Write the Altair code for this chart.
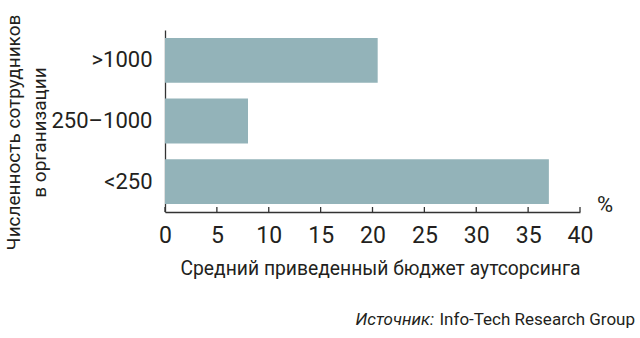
import altair as alt
import pandas as pd

categories = [">1000", "250–1000", "<250"]
values = [20.5, 8.0, 37.0]
tick_values = [0, 5, 10, 15, 20, 25, 30, 35, 40]
x_title = "Средний приведенный бюджет аутсорсинга"
y_title = ["Численность сотрудников", "в организации"]
unit_label = ["%"]
source_label = ["Источник:"]
source_text = ["Info-Tech Research Group"]

FONT = "Roboto"
TXT = "#231f20"
AX = "#333333"
BAR = "#93b3b9"
W, H = 415, 182

bars_df = pd.DataFrame({"cat": categories, "val": values})

bars = alt.Chart(bars_df).mark_bar(color=BAR).encode(
    x=alt.X(
        "val:Q",
        scale=alt.Scale(domain=[0, 40], nice=False, zero=True),
        axis=alt.Axis(
            values=tick_values, tickSize=0, labelFontSize=23, labelPadding=12,
            labelColor=TXT, labelFont=FONT, labelFlush=False, labelOverlap=False,
            domainColor=AX, domainWidth=1.3,
            grid=False, title=x_title, titleFont=FONT, titleFontSize=19.3,
            titleFontWeight="normal", titleColor=TXT, titleX=215, titleY=62,
            titleBaseline="alphabetic", titleAlign="center",
        ),
    ),
    y=alt.Y(
        "cat:N", sort=categories,
        scale=alt.Scale(paddingInner=0.26, paddingOuter=0.13),
        axis=alt.Axis(
            tickSize=0, labelFontSize=22, labelPadding=13, labelColor=TXT,
            labelFont=FONT, domainColor=AX, domainWidth=1.3, grid=False,
            title=y_title, titleFont=FONT, titleFontSize=19, titleFontWeight="normal",
            titleColor=TXT, titleAngle=270, titleX=-146, titleY=102,
            titleAlign="center", titleBaseline="alphabetic", titleLineHeight=26,
        ),
    ),
)

ticks = alt.Chart(pd.DataFrame({"v": tick_values})).mark_rule(color=AX, strokeWidth=1.3).encode(
    x=alt.X("v:Q"), y=alt.value(H - 5), y2=alt.value(H)
)

pct = alt.Chart(pd.DataFrame({"t": unit_label})).mark_text(
    font=FONT, fontSize=22, color=TXT, align="center", baseline="alphabetic"
).encode(text="t:N", x=alt.value(440), y=alt.value(H))

src1 = alt.Chart(pd.DataFrame({"t": source_label})).mark_text(
    font=FONT, fontSize=17, fontStyle="italic", color=TXT, align="right", baseline="alphabetic"
).encode(text="t:N", x=alt.value(269), y=alt.value(295))

src2 = alt.Chart(pd.DataFrame({"t": source_text})).mark_text(
    font=FONT, fontSize=17, color=TXT, align="right", baseline="alphabetic"
).encode(text="t:N", x=alt.value(470), y=alt.value(295))

chart = alt.layer(bars, ticks, pct, src1, src2).properties(
    width=W, height=H,
    padding={"left": 165, "top": 30, "right": 60, "bottom": 126},
    autosize=alt.AutoSizeParams(type="none"),
    background="white",
).configure_view(stroke=None)

chart.save("out.html", embed_options={"renderer": "svg", "actions": False})
